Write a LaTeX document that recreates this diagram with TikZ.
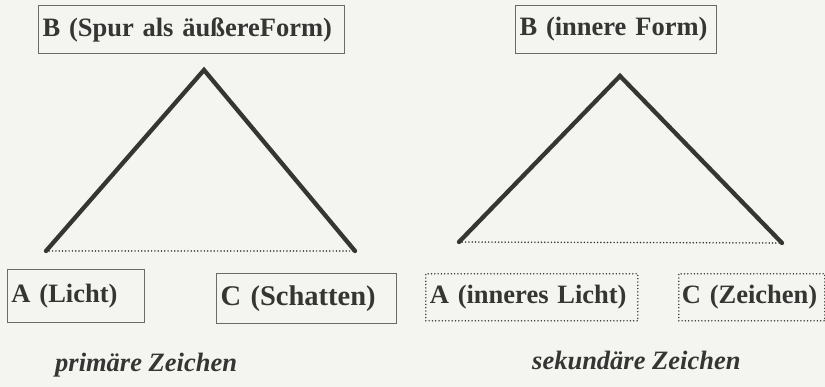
\documentclass[tikz,border=0pt]{standalone}
\usepackage{fontspec}
\setmainfont{Liberation Serif}
\definecolor{bg}{HTML}{F4F4F1}
\definecolor{ink}{HTML}{353533}
\definecolor{frame}{HTML}{6A6A68}
\tikzset{
  box/.style={draw=frame, line width=1pt, anchor=north west, inner xsep=4pt, inner ysep=0pt,
              align=left, font=\bfseries\fontsize{26.5}{30}\selectfont, text=ink},
  dotbox/.style={box, draw=ink, line width=1.6pt, line cap=round, dash pattern=on 0pt off 3.3pt},
  leg/.style={line width=4.3pt, draw=ink, line cap=round},
  base/.style={draw=ink, line width=1.7pt, line cap=round, dash pattern=on 0pt off 3.3pt},
  caption/.style={anchor=base west, inner sep=0pt, font=\bfseries\itshape\fontsize{26.5}{30}\selectfont, text=ink}
}
\begin{document}
\begin{tikzpicture}[x=1pt,y=-1pt]
\fill[bg] (0,0) rectangle (825,387);
\useasboundingbox (0,0) rectangle (825,387);
% left diagram
\node[box, minimum width=306pt, minimum height=48pt, text width=298pt] (B1) at (38,5) {B (Spur als äußereForm)};
\coordinate (T1) at (204,70);
\coordinate (L1) at (46,251);
\coordinate (R1) at (355,251);
\draw[base] (L1) -- (R1);
\draw[leg] (L1) -- (T1) -- (R1);
\node[box, minimum width=137pt, minimum height=53pt, text width=129pt] (A1) at (7,269) {A (Licht)};
\node[box, minimum width=180pt, minimum height=50pt, text width=172pt, inner xsep=2pt, font=\bfseries\fontsize{28.5}{32}\selectfont] (C1) at (216,273) {C (Schatten)};
\node[caption] (P1) at (55,372) {primäre Zeichen};
% right diagram
\node[box, minimum width=201pt, minimum height=48pt, text width=193pt] (B2) at (515,5) {B (innere Form)};
\coordinate (T2) at (620,76);
\coordinate (L2) at (459,242);
\coordinate (R2) at (782,243);
\draw[base] (L2) -- (R2);
\draw[leg] (L2) -- (T2) -- (R2);
\node[dotbox, minimum width=212pt, minimum height=47pt, text width=204pt] (A2) at (425,273) {A (inneres Licht)};
\node[dotbox, minimum width=146pt, minimum height=47pt, text width=140pt, inner xsep=3pt] (C2) at (678,273) {C (Zeichen)};
\node[caption] (P2) at (532,370) {sekundäre Zeichen};
\end{tikzpicture}
\end{document}
